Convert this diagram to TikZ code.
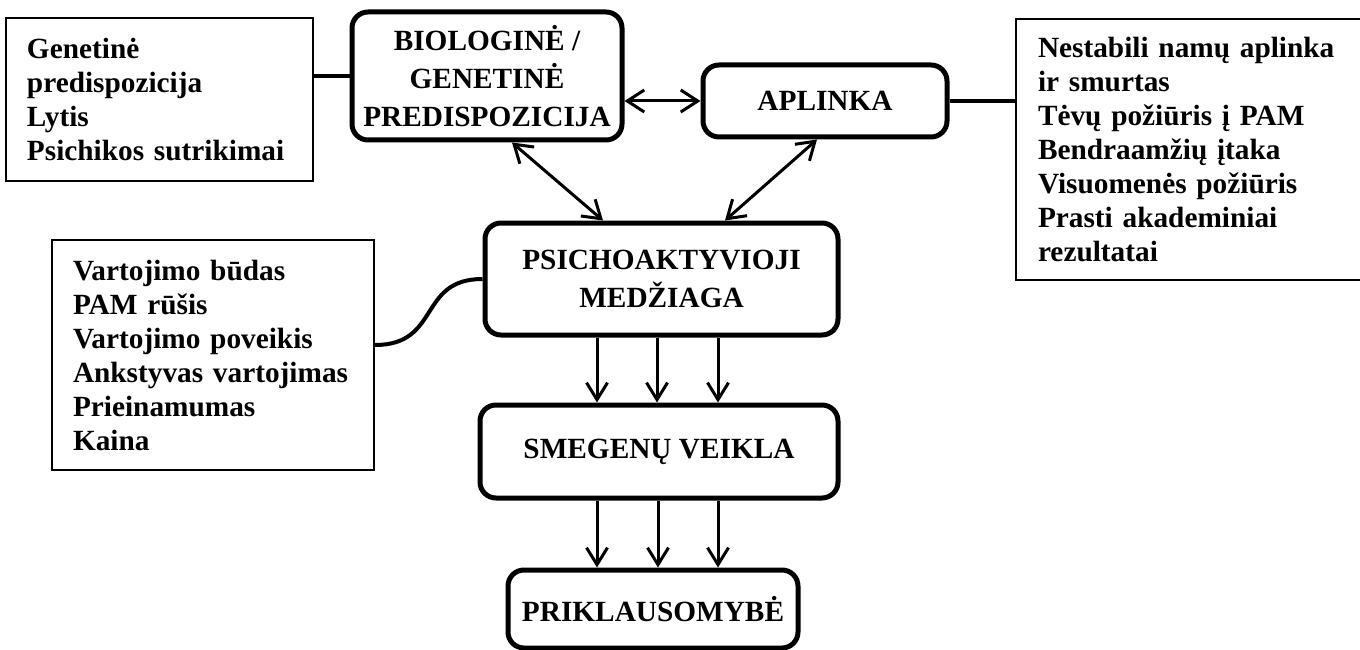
\documentclass[tikz,border=0pt]{standalone}
\usepackage{fontspec}
\setmainfont{Liberation Serif}
\usetikzlibrary{arrows.meta,calc}
\tikzset{
  listbox/.style={draw, line width=2pt, inner xsep=21pt, inner ysep=0pt, align=left,
    font=\fontsize{29.3}{34}\selectfont\bfseries},
  titlebox/.style={draw, line width=5pt, rounded corners=16pt, inner sep=0pt, align=center,
    font=\fontsize{29.3}{38}\selectfont\bfseries},
  link/.style={line width=4pt},
  flow/.style={line width=3pt, -{Straight Barb[length=17pt,width=21pt]}},
  both/.style={line width=3pt, {Straight Barb[length=17pt,width=22pt]}-{Straight Barb[length=17pt,width=22pt]}}
}
\begin{document}
\begin{tikzpicture}[x=1pt,y=-1pt]
\useasboundingbox[fill=white] (0,0) rectangle (1360,650);
% side lists
\node[listbox, minimum width=307pt, minimum height=163pt, text width=265pt] (gen) at (159.5,99.5)
  {Genetinė\\predispozicija\\Lytis\\Psichikos sutrikimai};
\node[listbox, anchor=north west, minimum width=360pt, minimum height=261pt, text width=318pt, inner xsep=22pt] (env) at (1015,18)
  {Nestabili namų aplinka\\ir smurtas\\Tėvų požiūris į PAM\\Bendraamžių įtaka\\Visuomenės požiūris\\Prasti akademiniai\\rezultatai};
\node[listbox, minimum width=322pt, minimum height=230pt, text width=280pt] (use) at (213,355)
  {Vartojimo būdas\\PAM rūšis\\Vartojimo poveikis\\Ankstyvas vartojimas\\Prieinamumas\\Kaina};
% main boxes
\node[titlebox, minimum width=270pt, minimum height=128pt] (bio) at (487,76)
  {BIOLOGINĖ /\\GENETINĖ\\PREDISPOZICIJA};
\node[titlebox, minimum width=244pt, minimum height=72pt] (apl) at (825,101) {APLINKA};
\node[titlebox, minimum width=353pt, minimum height=112pt] (psy) at (661.5,279)
  {PSICHOAKTYVIOJI\\MEDŽIAGA};
\node[titlebox, minimum width=358pt, minimum height=93pt] (brain) at (659,451.5) {SMEGENŲ VEIKLA};
\node[titlebox, minimum width=290pt, minimum height=78pt] (dep) at (653,609) {PRIKLAUSOMYBĖ};
% connectors
\draw[link] (bio.west) -- (bio.west -| gen.east);
\draw[link] (apl.east) -- (apl.east -| env.west);
\draw[both] (apl.west) -- (apl.west -| bio.east);
\draw[both] ([xshift=25pt]bio.south) -- ([xshift=-58.5pt]psy.north);
\draw[both] ([xshift=-8pt]apl.south) -- ([xshift=63.5pt]psy.north);
\draw[link] ([yshift=10pt]use.east) .. controls +(66,0) and +(-65,0) .. (psy.west);
\foreach \dx in {-64.5,-4.5,56.5}
  \draw[flow] ([xshift=\dx pt]psy.south) -- ([xshift=\dx pt]psy.south |- brain.north);
\foreach \dx in {-62,-1,59}
  \draw[flow] ([xshift=\dx pt]brain.south) -- ([xshift=\dx pt]brain.south |- dep.north);
\end{tikzpicture}
\end{document}
